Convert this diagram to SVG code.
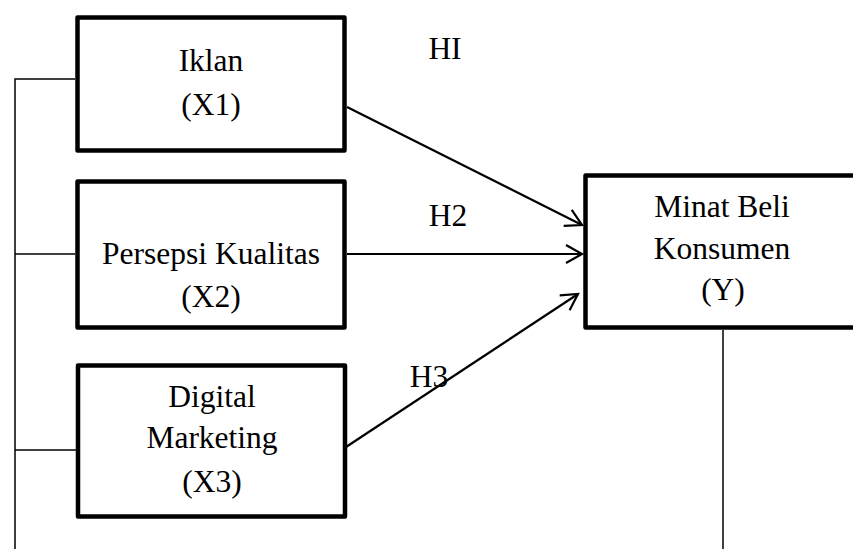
<svg xmlns="http://www.w3.org/2000/svg" width="853" height="549" viewBox="0 0 853 549">
<style>
.box{fill:#fff;stroke:#000;stroke-width:4.5;stroke-linejoin:round}
.t{font-family:"Liberation Serif","Times New Roman",serif;font-size:31.5px;fill:#000;text-anchor:middle}
.c{fill:none;stroke:#000;stroke-width:1.5}
.a{fill:none;stroke:#000;stroke-width:2.2;marker-end:url(#arr)}
</style>
<defs>
<marker id="arr" markerUnits="userSpaceOnUse" markerWidth="24" markerHeight="24" viewBox="-20 -12 24 24" refX="0" refY="0" orient="auto">
<path d="M-16,-9 L0,0 L-16,9" fill="none" stroke="#000" stroke-width="2.2"/>
</marker>
</defs>
<g id="connectors">
<polyline class="c" points="75,79 15,79 15,549"/>
<line class="c" x1="15" y1="254" x2="75" y2="254"/>
<line class="c" x1="15" y1="450" x2="76" y2="450"/>
<line class="c" x1="723" y1="330" x2="723" y2="549"/>
<line class="a" x1="347" y1="107" x2="582" y2="225"/>
<line class="a" x1="347" y1="254" x2="582" y2="254"/>
<line class="a" x1="346" y1="447" x2="578" y2="294"/>
<text class="t" x="445" y="59">HI</text>
<text class="t" x="448" y="226">H2</text>
<text class="t" x="429" y="387">H3</text>
</g>
<g id="x1">
<rect class="box" x="77.5" y="17.5" width="267" height="133"/>
<text class="t" x="211" y="71">Iklan</text>
<text class="t" x="211" y="115">(X1)</text>
</g>
<g id="x2">
<rect class="box" x="77.5" y="181.5" width="267" height="146"/>
<text class="t" x="211" y="264">Persepsi Kualitas</text>
<text class="t" x="211" y="307">(X2)</text>
</g>
<g id="x3">
<rect class="box" x="78" y="365.5" width="267" height="151"/>
<text class="t" x="212" y="407">Digital</text>
<text class="t" x="212" y="448">Marketing</text>
<text class="t" x="212" y="492">(X3)</text>
</g>
<g id="y">
<rect class="box" x="585.5" y="175.5" width="300" height="152"/>
<text class="t" x="722" y="217">Minat Beli</text>
<text class="t" x="722" y="259">Konsumen</text>
<text class="t" x="723" y="300">(Y)</text>
</g>
</svg>
